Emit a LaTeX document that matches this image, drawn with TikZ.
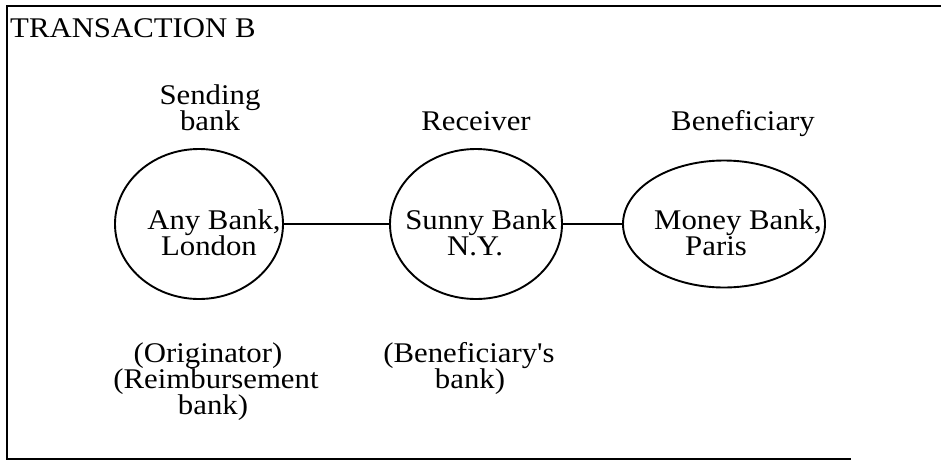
\documentclass[tikz,border=0pt]{standalone}
\usepackage{fontspec}
\setmainfont[FakeStretch=1.08,Ligatures=TeXOff]{Liberation Serif}
\usetikzlibrary{shapes.geometric}
\begin{document}
\begin{tikzpicture}[x=1pt,y=-1pt,
  lbl/.style={font=\fontsize{28.5}{26}\selectfont, inner sep=0pt, anchor=base},
  bankshape/.style={draw, ellipse, line width=1.9pt, inner sep=0pt},
  link/.style={line width=1.8pt},
  frame/.style={line width=1.9pt}]
\useasboundingbox (0,0) rectangle (941,461);
% frame (open on the right)
\coordinate (f1) at (941,6);
\coordinate (f2) at (7,6);
\coordinate (f3) at (7,459);
\coordinate (f4) at (851,459);
\draw[frame] (f1) -- (f2) -- (f3) -- (f4);
\node[lbl, anchor=base west] (title) at (10,37) {TRANSACTION B};
% banks
\node[bankshape, minimum width=168pt, minimum height=150pt] (any) at (199,224) {};
\node[bankshape, minimum width=172pt, minimum height=150pt] (sunny) at (476,224) {};
\node[bankshape, minimum width=202pt, minimum height=127pt] (money) at (724,224) {};
\draw[link] (any.east) -- (sunny.west);
\draw[link] (sunny.east) -- (money.west);
% texts inside
\node[lbl] (any1) at (214,229) {Any Bank,};
\node[lbl] (any2) at (209,255) {London};
\node[lbl] (sun1) at (481,229) {Sunny Bank};
\node[lbl] (sun2) at (475,255) {N.Y.};
\node[lbl] (mon1) at (738,229) {Money Bank,};
\node[lbl] (mon2) at (716,255) {Paris};
% labels above
\node[lbl] (send1) at (210,104) {Sending};
\node[lbl] (send2) at (210,130) {bank};
\node[lbl] (recv) at (476,130) {Receiver};
\node[lbl] (bene) at (743,130) {Beneficiary};
% labels below
\node[lbl] (orig) at (208,362) {(Originator)};
\node[lbl] (reimb) at (216,388) {(Reimbursement};
\node[lbl] (reimb2) at (213,414) {bank)};
\node[lbl] (bb1) at (469,362) {(Beneficiary's};
\node[lbl] (bb2) at (470,388) {bank)};
\end{tikzpicture}
\end{document}
